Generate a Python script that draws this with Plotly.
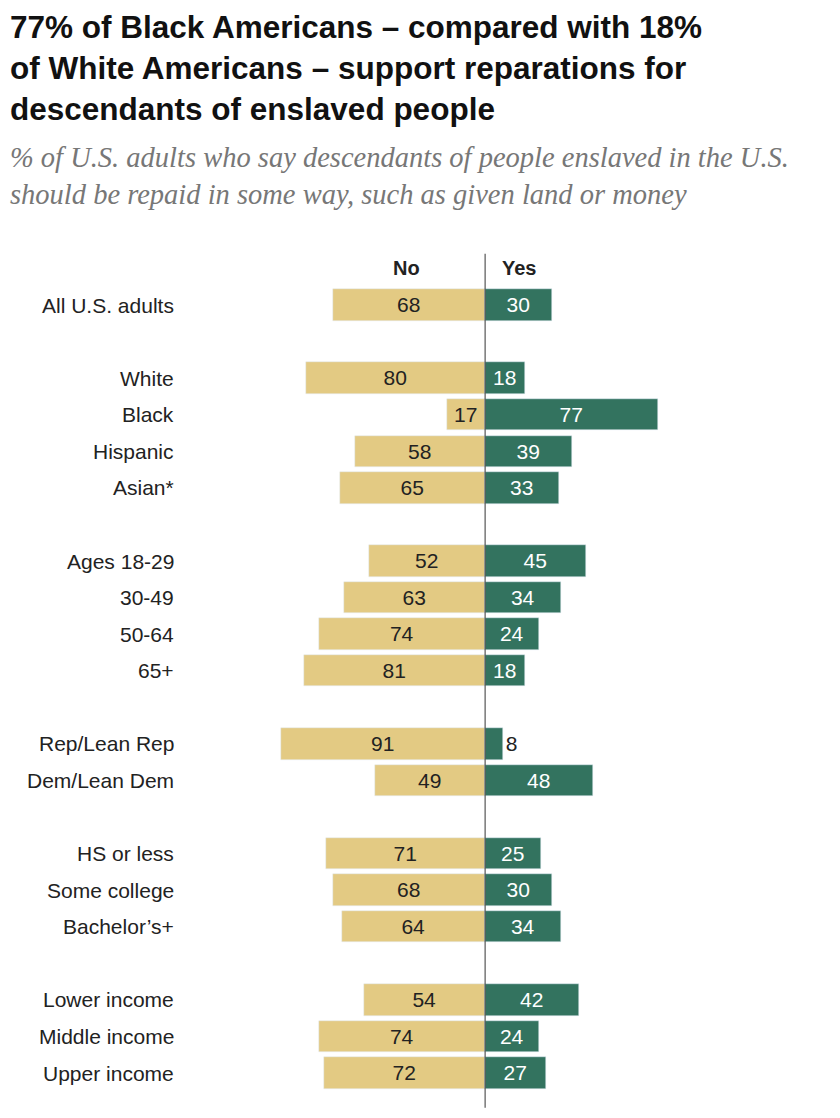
import plotly.graph_objects as go

groups = ["All U.S. adults", "White", "Black", "Hispanic", "Asian*",
          "Ages 18-29", "30-49", "50-64", "65+",
          "Rep/Lean Rep", "Dem/Lean Dem",
          "HS or less", "Some college", "Bachelor’s+",
          "Lower income", "Middle income", "Upper income"]
no_vals = [68, 80, 17, 58, 65, 52, 63, 74, 81, 91, 49, 71, 68, 64, 54, 74, 72]
yes_vals = [30, 18, 77, 39, 33, 45, 34, 24, 18, 8, 48, 25, 30, 34, 42, 24, 27]
# row slots, with blank rows between sections
rows = [0, 2, 3, 4, 5, 7, 8, 9, 10, 12, 13, 15, 16, 17, 19, 20, 21]

TAN = "#E3CA83"
GREEN = "#33735F"
FONT = "Liberation Sans"

fig = go.Figure()
fig.add_trace(go.Bar(
    x=[-v for v in no_vals], y=rows, orientation="h", marker_color=TAN,
    text=[str(v) for v in no_vals], textposition="inside", insidetextanchor="middle",
    textfont=dict(color="#222222", size=21, family=FONT), width=0.86,
    hoverinfo="skip"))
fig.add_trace(go.Bar(
    x=yes_vals, y=rows, orientation="h", marker_color=GREEN,
    text=[str(v) for v in yes_vals],
    textposition=["outside" if v < 12 else "inside" for v in yes_vals],
    insidetextanchor="middle",
    textfont=dict(color=["#222222" if v < 12 else "white" for v in yes_vals], size=21, family=FONT),
    width=0.86, cliponaxis=False, hoverinfo="skip"))

for g, r in zip(groups, rows):
    fig.add_annotation(x=-138, y=r, text=g, showarrow=False, xanchor="right",
                       font=dict(size=21, family=FONT, color="#222222"))

fig.add_annotation(x=-35, y=-1, text="<b>No</b>", showarrow=False,
                   font=dict(size=20, family=FONT, color="#222222"))
fig.add_annotation(x=15, y=-1, text="<b>Yes</b>", showarrow=False,
                   font=dict(size=20, family=FONT, color="#222222"))

fig.add_shape(type="line", x0=0, x1=0, y0=-1.4, y1=21.95, line=dict(color="#555555", width=1.2))

fig.add_annotation(xref="paper", yref="paper", x=0.0, y=1.283, xanchor="left", yanchor="top",
                   align="left", showarrow=False,
                   text="<b>77% of Black Americans – compared with 18%<br>of White Americans – support reparations for<br>descendants of enslaved people</b>",
                   font=dict(size=31.5, family=FONT, color="#111111"))
fig.add_annotation(xref="paper", yref="paper", x=0.0, y=1.128, xanchor="left", yanchor="top",
                   align="left", showarrow=False,
                   text="<i>% of U.S. adults who say descendants of people enslaved in the U.S.<br>should be repaid in some way, such as given land or money</i>",
                   font=dict(size=28.5, family="Liberation Serif", color="#777777"))

fig.update_layout(
    width=840, height=1118, barmode="relative", bargap=0, showlegend=False,
    margin=dict(l=0, r=0, t=242, b=16), plot_bgcolor="white", paper_bgcolor="white",
    xaxis=dict(range=[-213, 162], visible=False, fixedrange=True),
    yaxis=dict(range=[22.01, -1.504], visible=False),
    uniformtext=dict(mode=False))
fig.write_html("out.html")
